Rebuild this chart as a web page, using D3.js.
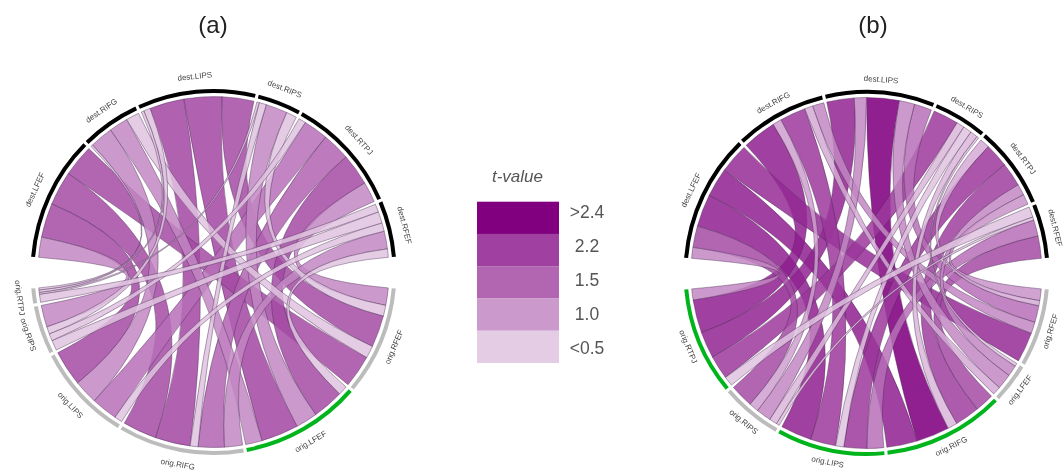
<!DOCTYPE html>
<html><head><meta charset="utf-8">
<script src="https://cdn.jsdelivr.net/npm/d3@7"></script>
<style>
html,body{margin:0;padding:0;background:#fff}
svg{display:block;font-family:"Liberation Sans",Arial,sans-serif;filter:blur(.35px)}
</style></head><body><svg id="c" width="1063" height="471"></svg>
<script>
const origins = ["orig.RFEF","orig.LFEF","orig.RIFG","orig.LIPS","orig.RIPS","orig.RTPJ"];
const destinations = ["dest.LFEF","dest.RIFG","dest.LIPS","dest.RIPS","dest.RTPJ","dest.RFEF"];
const greenA = ["orig.LFEF"];
const greenB = ["orig.RTPJ","orig.LIPS","orig.RIFG"];
// [origin, destination, order inside destination, flow at origin, flow at destination, t-value]
const linksA = [
 [0,4,4,5.8,6.8,1.0],[0,3,3,3.6,3.5,.5],[0,2,4,10.6,10.6,1.5],[0,1,3,4.1,4.4,.5],[0,0,3,10.8,10.6,1.5],
 [1,5,4,3.1,2.8,.5],[1,4,3,10.4,10.6,1.5],[1,3,2,7.2,7.2,1.0],[1,2,3,12.5,12.6,1.6],[1,1,2,5.5,6.3,1.0],
 [2,5,3,6,5.9,1.0],[2,4,2,8.7,9.3,1.3],[2,3,1,2.6,2.4,.5],[2,2,2,11.7,11.5,1.6],[2,0,2,11.3,11.4,1.5],
 [3,5,2,2.6,2.8,.5],[3,4,1,8.7,8.2,1.2],[3,1,1,8,7.7,1.0],[3,0,1,11.9,11.4,1.5],
 [4,5,1,3.4,3.8,.5],[4,4,0,2.4,2.4,.5],[4,2,1,2.4,2.2,.5],[4,0,0,7.3,6.7,1.0],
 [5,5,0,2.7,2.7,.5],[5,3,0,.6,.8,.5],[5,2,0,.8,.9,.5],[5,1,0,.7,.7,.5]
];
const linksB = [
 [0,4,4,3.9,3.4,.9],[0,4,0,1.7,3.2,.7],[0,2,4,5.6,5.8,1.2],[0,1,4,3.8,3.8,1.0],[0,0,4,10,9.8,2.0],
 [1,3,4,1,.7,.4],[1,4,3,3.7,3.7,1.0],[1,2,3,5.1,5.1,1.0],[1,1,3,2.8,2.7,.7],
 [2,5,3,6.3,7.4,1.5],[2,4,2,8.3,7.9,1.7],[2,3,3,3.2,2.5,.6],[2,2,2,11.1,10.8,2.3],[2,0,3,10.1,9.6,2.2],
 [3,5,2,5.5,5.4,1.2],[3,4,1,7.7,8,1.8],[3,3,2,2.7,2.8,.5],[3,1,2,8.4,8.6,1.8],[3,0,2,10.4,10.8,2.2],
 [4,5,1,1,1,.4],[4,3,1,2.6,2.6,.6],[4,2,1,5,4,1.0],[4,1,1,3.2,2.9,.8],[4,0,1,7.8,7.1,1.5],
 [5,5,0,3.2,3.5,.5],[5,3,0,7.9,8.4,1.8],[5,2,0,8.9,9.1,2.1],[5,1,0,11,11.2,2.2],[5,0,0,3.7,3.6,1.0]
];
const legendLabels = [">2.4","2.2","1.5","1.0","<0.5"];
const legendT = [2.4,2.2,1.5,1.0,0.5];

const rad = d3.scaleLinear().domain([0,360]).range([0,2*Math.PI]);
const alpha = d3.scaleLinear().domain([.5,1,1.5,2.2,2.4]).range([.2,.4,.6,.75,1]).clamp(true);
// same colour on white as rgba(128,0,128,alpha), but with a denser paint so overlaps darken less
function purple(t){
  const al = alpha(t), paint = Math.max(al,.85), k = al/paint;
  return `rgba(${255-127*k},${255-255*k},${255-127*k},${paint})`;
}
const svg = d3.select("#c");
const R = {out:183, inn:179, link:175.5};

function layout(names, flows, from, to){
  const gap = 1;
  const total = d3.sum(flows, f=>d3.sum(f));
  const pos = d3.scaleLinear().domain([0,total]).range([0, to-from-gap*(names.length-1)]);
  let cum = 0;
  return names.map((n,i)=>{
    const start = from + pos(cum) + gap*i;
    const base = cum;
    const stops = [0].concat(Array.from(d3.cumsum(flows[i])));
    cum += d3.sum(flows[i]);
    return {name:n, a0:start, a1:start+pos(cum)-pos(base),
            slot:stops.map(s=>start+pos(s+base)-pos(base))};
  });
}

function chord(cx, cy, links, greens, title, titleX, labelR){
  const g = svg.append("g").attr("transform",`translate(${cx},${cy})`);
  const byO = origins.map((_,i)=>links.filter(l=>l[0]===i));
  const byD = destinations.map((_,i)=>links.filter(l=>l[1]===i).sort((a,b)=>a[2]-b[2]));
  const oSec = layout(origins, byO.map(ls=>ls.map(l=>l[3])), 95.2, 264.8);
  const dSec = layout(destinations, byD.map(ls=>ls.map(l=>l[4])), -85.2, 85.2);
  const ribbon = d3.ribbon().radius(R.link);
  const items = links.map(l=>{
    const oi = byO[l[0]].indexOf(l), di = byD[l[1]].indexOf(l);
    const o = oSec[l[0]], d = dSec[l[1]];
    return {t:l[5],
      source:{startAngle:rad(o.slot[oi]),endAngle:rad(o.slot[oi+1])},
      target:{startAngle:rad(d.slot[di]),endAngle:rad(d.slot[di+1])}};
  }).sort((a,b)=>b.t-a.t);
  g.selectAll("path.link").data(items).join("path").attr("class","link")
    .attr("d",ribbon).attr("fill",d=>purple(d.t))
    .attr("stroke","rgba(70,40,80,.7)").attr("stroke-width",.6);
  const arc = d3.arc().innerRadius(R.inn).outerRadius(R.out);
  const sec = oSec.map(s=>({...s,kind:"o"})).concat(dSec.map(s=>({...s,kind:"d"})));
  g.selectAll("path.track").data(sec).join("path").attr("class","track")
    .attr("d",s=>arc({startAngle:rad(s.a0),endAngle:rad(s.a1)}))
    .attr("fill",s=>s.kind==="d"?"#000":greens.includes(s.name)?"#00b41c":"#bcbcbc");
  g.selectAll("text.lab").data(sec).join("text").attr("class","lab")
    .attr("transform",s=>{const m=(s.a0+s.a1)/2,r=rad(m);
      const x=labelR*Math.sin(r),y=-labelR*Math.cos(r);
      return `translate(${x},${y}) rotate(${s.kind==="d"?m:m-180})`;})
    .attr("text-anchor","middle").attr("dominant-baseline","middle")
    .attr("font-size",8).attr("fill","#444").text(s=>s.name);
  svg.append("text").attr("x",titleX).attr("y",33).attr("text-anchor","middle")
    .attr("font-size",24).attr("fill","#222").text(title);
}
chord(213.5,272,linksA,greenA,"(a)",213,196);
chord(866.5,273,linksB,greenB,"(b)",873,193.5);

const band = d3.scaleBand().domain(legendLabels).range([201.7,363]);
svg.selectAll("rect.leg").data(legendLabels).join("rect").attr("class","leg")
  .attr("x",477).attr("width",82).attr("y",d=>band(d)).attr("height",band.bandwidth())
  .attr("fill",(d,i)=>purple(legendT[i]));
const lab = d3.scalePoint().domain(legendLabels).range([213,349]);
svg.selectAll("text.leg").data(legendLabels).join("text").attr("class","leg")
  .attr("x",587).attr("y",d=>lab(d)).attr("text-anchor","middle").attr("dominant-baseline","middle")
  .attr("font-size",17.5).attr("fill","#555").text(d=>d);
svg.append("text").attr("x",517.5).attr("y",182).attr("text-anchor","middle")
  .attr("font-size",17).attr("font-style","italic").attr("fill","#555").text("t-value");
</script></body></html>
